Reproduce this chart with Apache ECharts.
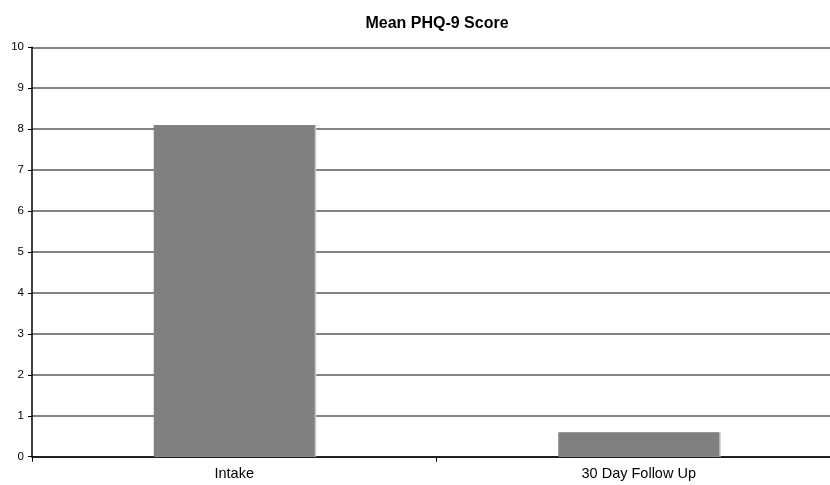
<!DOCTYPE html>
<html><head><meta charset="utf-8">
<script src="https://cdn.jsdelivr.net/npm/echarts@6/dist/echarts.min.js"></script>
<style>html,body{margin:0;padding:0;background:#fff;overflow:hidden;width:830px;height:485px}#c{width:850px;height:485px}</style>
</head><body><div id="c"></div>
<script>
var categories = ["Intake", "30 Day Follow Up"];
var meanScores = [8.1, 0.6];
var yTicks = [0, 1, 2, 3, 4, 5, 6, 7, 8, 9, 10];

var chart = echarts.init(document.getElementById('c'), null, {renderer: 'canvas'});
chart.setOption({
  animation: false,
  backgroundColor: '#fff',
  title: {
    text: 'Mean PHQ-9 Score',
    left: 432, top: 11, textAlign: 'center',
    textStyle: {fontFamily: 'Liberation Sans, Arial, sans-serif', fontWeight: 'bold', fontSize: 16, color: '#000'}
  },
  grid: {left: 32, top: 47.3, width: 809, height: 409.4, containLabel: false},
  xAxis: {
    type: 'category', data: categories,
    axisLine: {lineStyle: {color: '#000', width: 1.5}},
    axisTick: {show: true, length: 5, alignWithLabel: false, lineStyle: {color: '#000'}},
    axisLabel: {fontFamily: 'Liberation Sans, Arial, sans-serif', fontSize: 14.5, color: '#000', margin: 10}
  },
  yAxis: {
    type: 'value', min: yTicks[0], max: yTicks[yTicks.length - 1], interval: 1,
    axisLine: {show: true, lineStyle: {color: '#000', width: 1.5}},
    axisTick: {show: true, length: 4, lineStyle: {color: '#000'}},
    axisLabel: {fontFamily: 'Liberation Sans, Arial, sans-serif', fontSize: 11.5, color: '#000', margin: 8},
    splitLine: {lineStyle: {color: '#5a5a5a', width: 1.5}}
  },
  series: [{
    type: 'bar', data: meanScores, barWidth: 161,
    itemStyle: {color: '#808080', shadowColor: '#c8c8c8', shadowOffsetX: 1.5, shadowOffsetY: 0, shadowBlur: 0}
  }]
});
</script></body></html>
